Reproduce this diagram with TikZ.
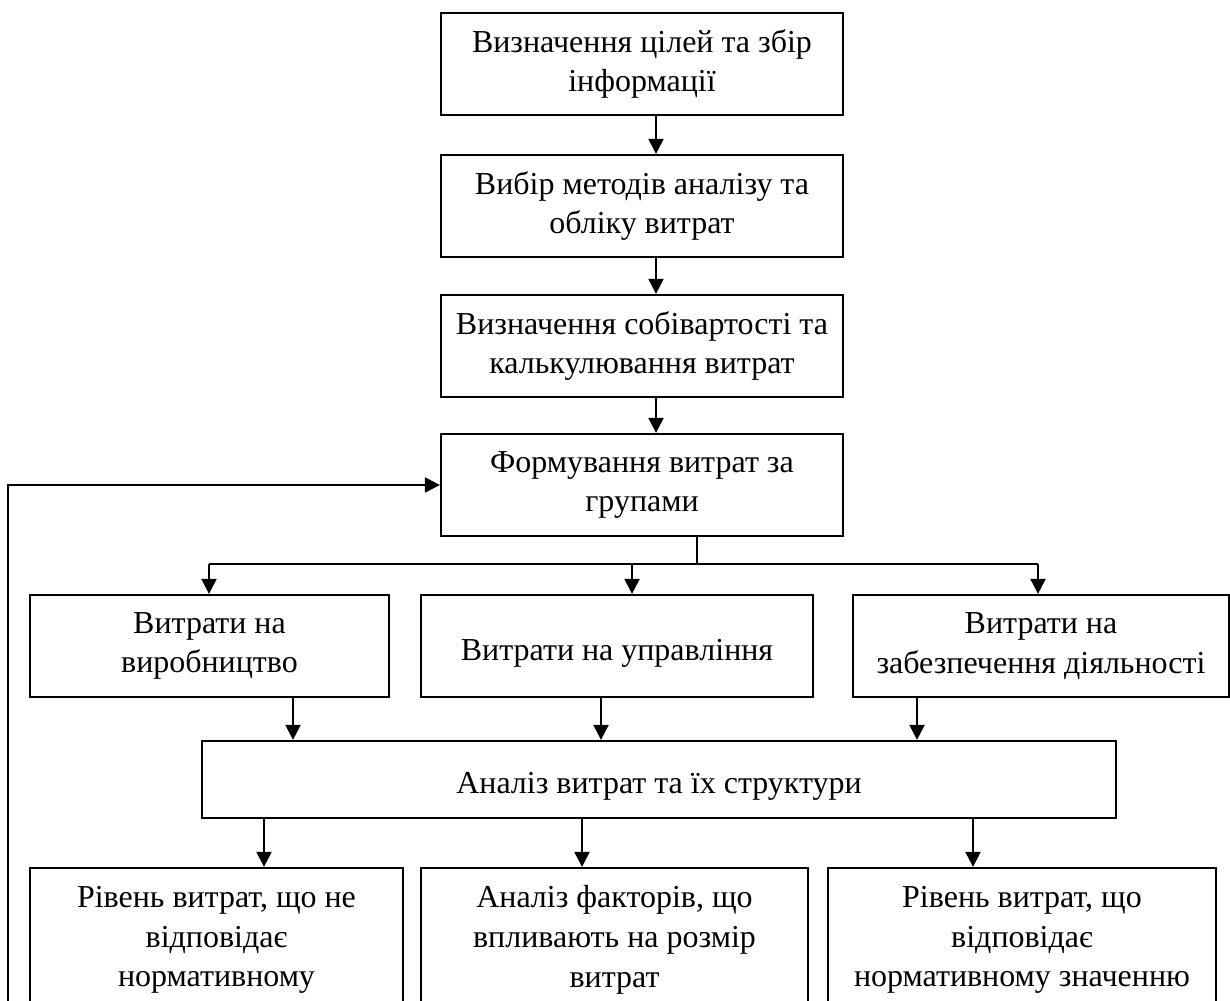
\documentclass[tikz,border=0pt]{standalone}
\usepackage{fontspec}
\setmainfont{Liberation Serif}
\usetikzlibrary{arrows.meta}

\begin{document}
\begin{tikzpicture}[x=1cm,y=1cm,
  stagebox/.style={draw,line width=1.3pt,minimum height=2.04cm,align=center,inner sep=2pt,font=\fontsize{18.2}{22.6}\selectfont,execute at begin node={\rule{0pt}{0.70cm}}},
  flowarr/.style={line width=1.3pt,-{Triangle[length=0.30cm,width=0.30cm]}},
  splitline/.style={line width=0.7pt}]
\path[use as bounding box] (0,0) rectangle (24.60,20.00);
\clip (0,0) rectangle (24.60,20.00);
% main chain
\node[stagebox,minimum width=8.04cm] (goals) at (12.84,18.72) {Визначення цілей та збір\\інформації};
\node[stagebox,minimum width=8.04cm] (methods) at (12.84,15.88) {Вибір методів аналізу та\\обліку витрат};
\node[stagebox,minimum width=8.04cm] (costing) at (12.84,13.08) {Визначення собівартості та\\калькулювання витрат};
\node[stagebox,minimum width=8.04cm] (groups) at (12.84,10.30) {Формування витрат за\\групами};
% cost groups
\node[stagebox,minimum width=7.18cm] (prod) at (4.19,7.08) {Витрати на\\виробництво};
\node[stagebox,minimum width=7.84cm] (mgmt) at (12.34,7.08) {Витрати на управління};
\node[stagebox,minimum width=7.52cm] (supp) at (20.82,7.08) {Витрати на\\забезпечення діяльності};
\node[stagebox,minimum width=18.28cm,minimum height=1.54cm] (anal) at (13.18,4.41) {Аналіз витрат та їх структури};
% results
\node[stagebox,minimum width=7.46cm,minimum height=2.88cm] (below) at (4.33,1.20) {Рівень витрат, що не\\відповідає\\нормативному};
\node[stagebox,minimum width=7.74cm,minimum height=2.88cm] (factors) at (12.29,1.20) {Аналіз факторів, що\\впливають на розмір\\витрат};
\node[stagebox,minimum width=7.76cm,minimum height=2.88cm] (norm) at (20.44,1.20) {Рівень витрат, що\\відповідає\\нормативному значенню};
% taps
\coordinate (axis) at (13.12,0);
\coordinate (split) at (13.94,8.72);
\coordinate (tA) at (4.18,0);
\coordinate (tB) at (12.64,0);
\coordinate (tC) at (20.76,0);
\coordinate (uA) at (5.86,0);
\coordinate (uB) at (12.02,0);
\coordinate (uC) at (18.34,0);
\coordinate (vA) at (5.28,0);
\coordinate (vB) at (11.64,0);
\coordinate (vC) at (19.46,0);
\coordinate (loop) at (0.16,-0.50);
\draw[flowarr] (goals.south -| axis) -- (methods.north -| axis);
\draw[flowarr] (methods.south -| axis) -- (costing.north -| axis);
\draw[flowarr] (costing.south -| axis) -- (groups.north -| axis);
\draw[splitline] (groups.south -| split) -- (split);
\draw[splitline] (split -| tA) -- (split -| tC);
\draw[flowarr] (split -| tA) -- (prod.north -| tA);
\draw[flowarr] (split -| tB) -- (mgmt.north -| tB);
\draw[flowarr] (split -| tC) -- (supp.north -| tC);
\draw[flowarr] (prod.south -| uA) -- (anal.north -| uA);
\draw[flowarr] (mgmt.south -| uB) -- (anal.north -| uB);
\draw[flowarr] (supp.south -| uC) -- (anal.north -| uC);
\draw[flowarr] (anal.south -| vA) -- (below.north -| vA);
\draw[flowarr] (anal.south -| vB) -- (factors.north -| vB);
\draw[flowarr] (anal.south -| vC) -- (norm.north -| vC);
\draw[flowarr] (loop) |- (groups.west);
\end{tikzpicture}
\end{document}
